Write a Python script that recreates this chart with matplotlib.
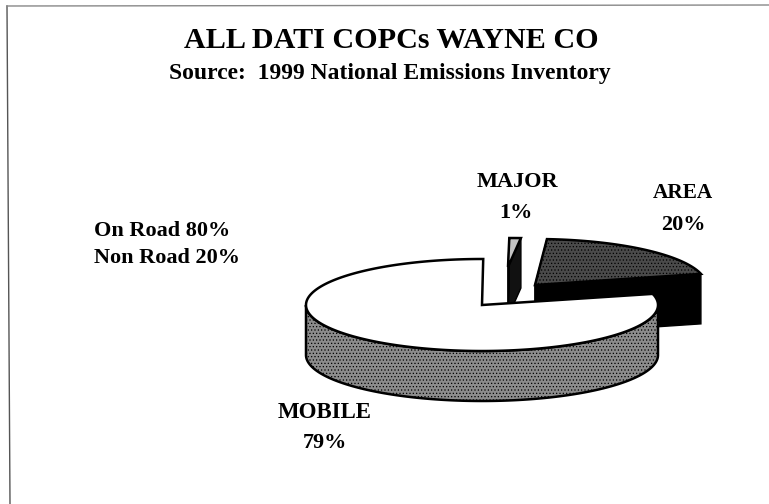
import numpy as np
import matplotlib
matplotlib.use('Agg')
import matplotlib.pyplot as plt
from matplotlib.patches import Polygon

plt.rcParams['font.family'] = ['Liberation Serif', 'DejaVu Serif']
plt.rcParams['hatch.linewidth'] = 0.5

labels = ['MOBILE', 'AREA', 'MAJOR']
shares = [79, 20, 1]
start_angle = 14
notes = ['On Road 80%', 'Non Road 20%']
title = 'ALL DATI COPCs WAYNE CO'
subtitle = 'Source:  1999 National Emissions Inventory'

# apex x, apex y, radius x, radius y for each exploded slice
geometry = {
    'MOBILE': (482, 305, 176, 46),
    'AREA': (535, 285, 171, 46),
    'MAJOR': (508, 267, 185, 29),
}
depth = 50


def slice_arc(name, a0, a1):
    cx, cy, rx, ry = geometry[name]
    t = np.radians(np.linspace(a0, a1, 400))
    return np.column_stack([cx + rx * np.cos(t), cy - ry * np.sin(t)])


def draw_slice(ax, name, a0, a1, top, side=None, side_hatch=None, top_hatch=None, wall=None):
    cx, cy, rx, ry = geometry[name]
    arc = slice_arc(name, a0, a1)

    # outer wall, only the part that faces the viewer
    if side is not None:
        front = arc[arc[:, 1] >= cy]
        wall_pts = np.vstack([front, front[::-1] + [0, depth]])
        ax.add_patch(Polygon(wall_pts, closed=True, facecolor=side, edgecolor='k',
                             linewidth=1.8, hatch=side_hatch, zorder=2))

    # cut walls down from the apex
    if wall is not None:
        for end in (arc[0], arc[-1]):
            pts = [[cx, cy], end, end + [0, depth], [cx, cy + depth]]
            ax.add_patch(Polygon(pts, closed=True, facecolor=wall, edgecolor='k',
                                 linewidth=1.0, zorder=2))

    top_pts = np.vstack([[cx, cy], arc])
    ax.add_patch(Polygon(top_pts, closed=True, facecolor=top, edgecolor='k',
                         linewidth=1.8, hatch=top_hatch, zorder=3))


fig = plt.figure(figsize=(7.69, 5.04), dpi=100, facecolor='white')
ax = fig.add_axes([0, 0, 1, 1])
ax.set_xlim(0, 769)
ax.set_ylim(504, 0)
ax.axis('off')

# page frame left over from the scanned slide
ax.plot([7, 10], [6, 504], color='#555555', lw=1.0)
ax.plot([7, 769], [6, 5], color='#888888', lw=1.0)

spans = {}
angle = start_angle
for name in ['AREA', 'MAJOR', 'MOBILE']:
    sweep = shares[labels.index(name)] * 3.6
    spans[name] = (angle, angle + sweep)
    angle += sweep

draw_slice(ax, 'MAJOR', *spans['MAJOR'], top='#c4c4c4', wall='#111111')
draw_slice(ax, 'AREA', *spans['AREA'], top='#4a4a4a', top_hatch='.....', wall='black')
draw_slice(ax, 'MOBILE', *spans['MOBILE'], top='white', side='#8c8c8c', side_hatch='.....')

ax.text(391.5, 40, title, ha='center', va='center', fontsize=21.7, fontweight='bold')
ax.text(390, 73, subtitle, ha='center', va='center', fontsize=17, fontweight='bold')

ax.text(94, 231, notes[0], ha='left', va='center', fontsize=16, fontweight='bold')
ax.text(94, 258, notes[1], ha='left', va='center', fontsize=16, fontweight='bold')

ax.text(517, 182, labels[2], ha='center', va='center', fontsize=16, fontweight='bold')
ax.text(516, 213, '%d%%' % shares[2], ha='center', va='center', fontsize=16, fontweight='bold')
ax.text(683, 193, labels[1], ha='center', va='center', fontsize=15.3, fontweight='bold')
ax.text(683, 225, '%d%%' % shares[1], ha='center', va='center', fontsize=16, fontweight='bold')
ax.text(325, 412, labels[0], ha='center', va='center', fontsize=16.5, fontweight='bold')
ax.text(325, 443, '%d%%' % shares[0], ha='center', va='center', fontsize=16, fontweight='bold')

fig.savefig('out.png', dpi=100)
